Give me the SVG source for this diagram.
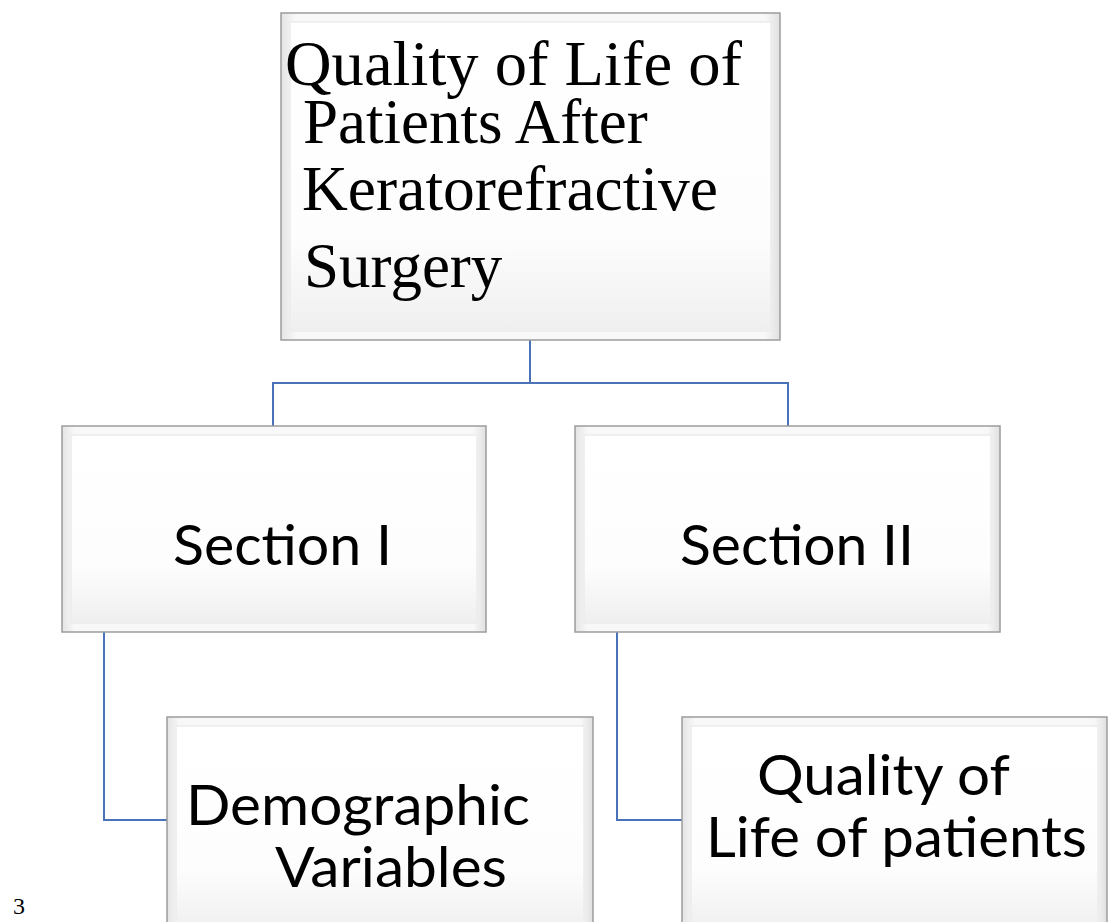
<svg xmlns="http://www.w3.org/2000/svg" width="1112" height="922" viewBox="0 0 1112 922">
<defs>
<linearGradient id="bev" x1="0" y1="0" x2="0" y2="1">
<stop offset="0" stop-color="#ffffff"/>
<stop offset="0.7" stop-color="#fdfdfd"/>
<stop offset="1" stop-color="#efefef"/>
</linearGradient>
<linearGradient id="side" x1="0" y1="0" x2="1" y2="0">
<stop offset="0" stop-color="#e4e4e4"/>
<stop offset="0.03" stop-color="#f8f8f8"/>
<stop offset="0.97" stop-color="#f8f8f8"/>
<stop offset="1" stop-color="#e0e0e0"/>
</linearGradient>
</defs>
<style>
.outer{fill:url(#side);stroke:#9c9c9c;stroke-width:1.5}
.inner{fill:url(#bev);stroke:#ececec;stroke-width:1.5}
.serif{font-family:"Liberation Serif","Times New Roman",serif;fill:#000}
.sans{font-family:Lato,"Open Sans",sans-serif;fill:#000}
.conn{fill:none;stroke:#4a72b8;stroke-width:2}
</style>
<rect width="1112" height="922" fill="#fff"/>
<g id="connectors">
<polyline class="conn" points="530,340 530,383"/>
<polyline class="conn" points="273,426 273,383 788,383 788,426"/>
<polyline class="conn" points="104,632 104,820 167,820"/>
<polyline class="conn" points="617,632 617,820 682,820"/>
</g>
<g id="node-root">
<rect class="outer" x="281" y="13" width="499" height="327"/>
<rect class="inner" x="290" y="22" width="481" height="309"/>
<text class="serif" font-size="63"><tspan x="285" y="85" textLength="457" lengthAdjust="spacingAndGlyphs">Quality of Life of</tspan><tspan x="303" y="143">Patients After</tspan><tspan x="302" y="210" textLength="416" lengthAdjust="spacingAndGlyphs">Keratorefractive</tspan><tspan x="304" y="287">Surgery</tspan></text>
</g>
<g id="node-section1">
<rect class="outer" x="62" y="426" width="424" height="206"/>
<rect class="inner" x="71" y="435" width="406" height="188"/>
<text class="sans" font-size="56" x="173" y="565" textLength="219" lengthAdjust="spacingAndGlyphs">Section I</text>
</g>
<g id="node-section2">
<rect class="outer" x="575" y="426" width="425" height="206"/>
<rect class="inner" x="584" y="435" width="407" height="188"/>
<text class="sans" font-size="56" x="680" y="565" textLength="234" lengthAdjust="spacingAndGlyphs">Section II</text>
</g>
<g id="node-demographic">
<rect class="outer" x="167" y="717" width="426" height="215"/>
<rect class="inner" x="176" y="726" width="408" height="205"/>
<text class="sans" font-size="56"><tspan x="186" y="825" textLength="344" lengthAdjust="spacingAndGlyphs">Demographic</tspan><tspan x="275" y="887" textLength="232" lengthAdjust="spacingAndGlyphs">Variables</tspan></text>
</g>
<g id="node-qol">
<rect class="outer" x="682" y="717" width="425" height="215"/>
<rect class="inner" x="691" y="726" width="407" height="205"/>
<text class="sans" font-size="56"><tspan x="757" y="795" textLength="253" lengthAdjust="spacingAndGlyphs">Quality of</tspan><tspan x="706" y="857" textLength="381" lengthAdjust="spacingAndGlyphs">Life of patients</tspan></text>
</g>
<text class="serif" font-size="24" x="13" y="914">3</text>
</svg>
